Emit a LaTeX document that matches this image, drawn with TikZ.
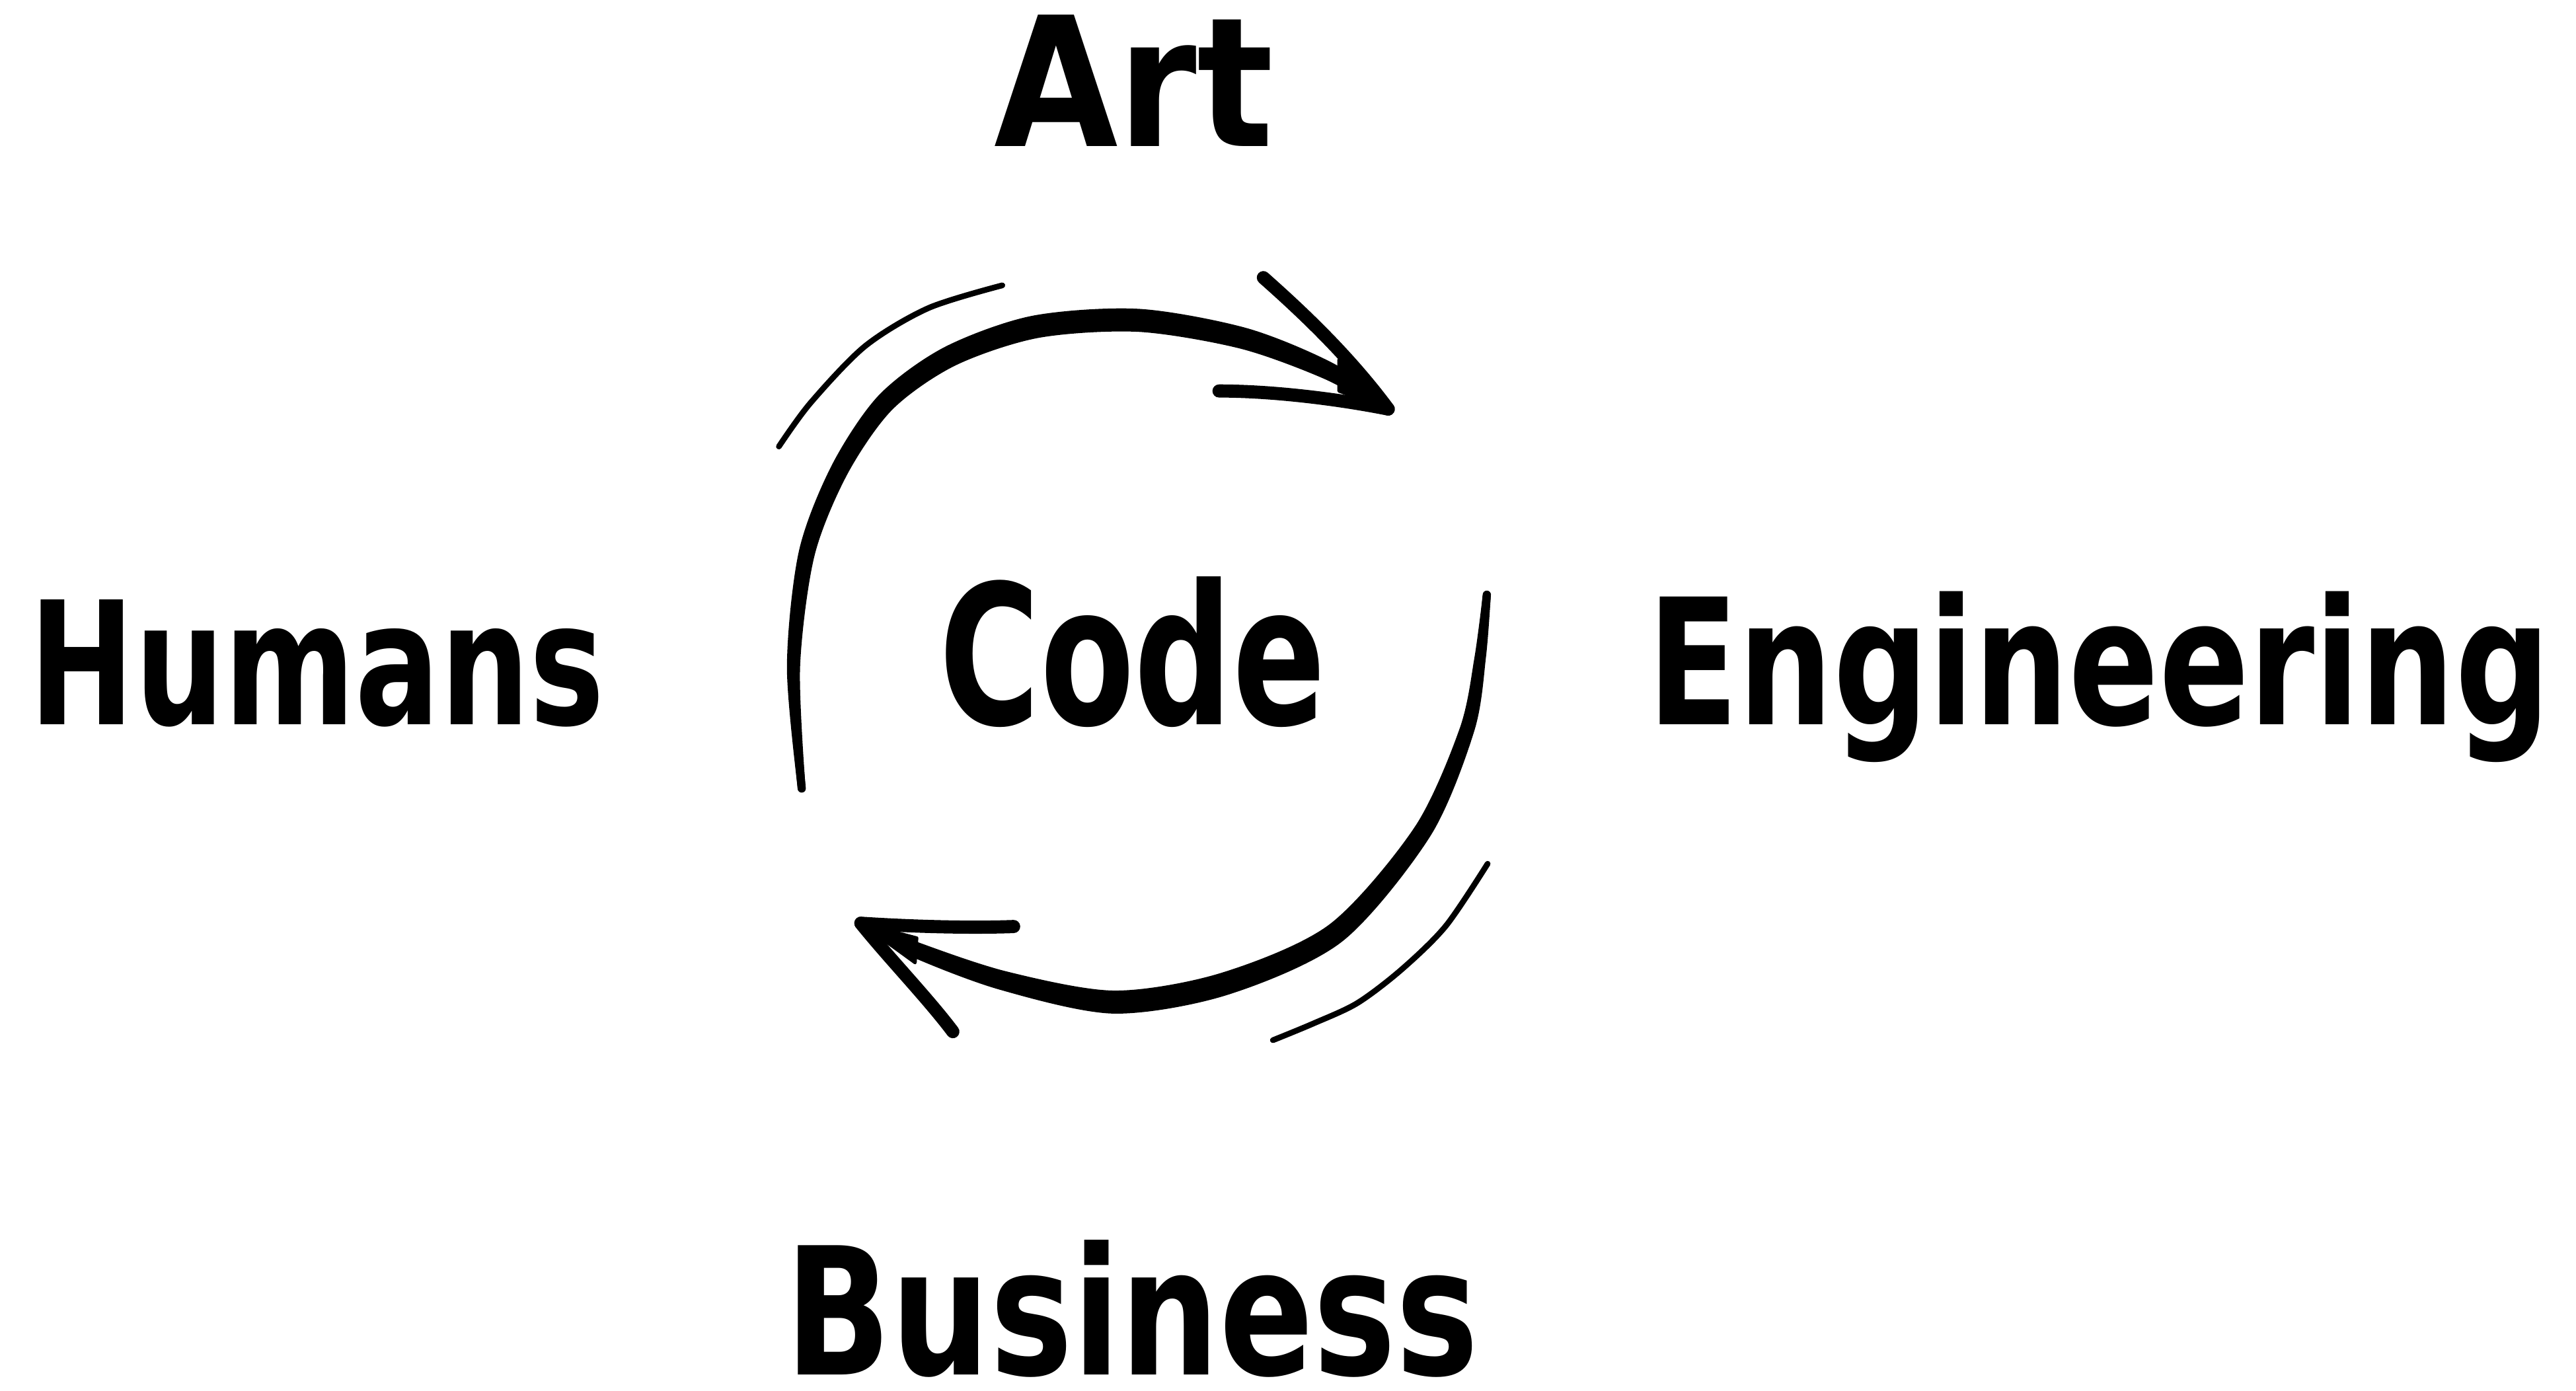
\documentclass[tikz,border=0pt]{standalone}
\usepackage{graphicx}
\usepackage{fontspec}
\newfontfamily\hwfont{DejaVu Sans}
\newcommand\hwtext[3]{\resizebox{#1bp}{#2bp}{\hwfont\bfseries #3}}
\tikzset{
  word/.style={inner sep=0pt, outer sep=0pt, anchor=base west, text=black},
  barb/.style={draw=black, line width=8bp, line cap=round, line join=round},
  spine/.style={draw=black, line width=5bp, line cap=round, line join=round},
  swish/.style={draw=black, line width=3.5bp, line cap=round},
  shaft/.style={fill=black, draw=none},
  wedge/.style={fill=black, draw=black, line width=2bp, line join=round},
}
\begin{document}
\begin{tikzpicture}[x=1bp, y=-1bp]
\useasboundingbox (0,0) rectangle (1568,846.75);

% ---- upper arrow (Humans side -> Engineering side)
\path[shaft] plot[smooth] coordinates {(485.7,480.9) (479,406) (486.3,335.4) (506.4,283.0) (534.9,240.6) (574.7,211.4) (628.0,192.3) (693.1,188) (759.1,199.8) (812.0,221.4) (848.1,246.9)}
   -- plot[smooth] coordinates {(843.9,251.1) (806.0,230.6) (754.9,212.2) (692.9,202) (632.0,205.7) (581.3,222.6) (543.1,249.4) (515.6,289.0) (495.7,338.6) (487,406) (490.3,479.1)} -- cycle;
\draw[spine] plot[smooth] coordinates {(488,480) (483,406) (491,337) (511,286) (539,245) (578,217) (630,199) (693,195) (757,206) (809,226) (844,249)};
\coordinate (utip) at (845,249);
\coordinate (ub1) at (769,169);
\coordinate (ub2) at (742,238);
\coordinate (uj1) at (815,219);
\coordinate (uj2) at (815,238);
\draw[barb] (ub1) .. controls (795,192) and (822,218) .. (utip);
\draw[barb] (ub2) .. controls (775,238) and (815,243) .. (utip);
\filldraw[wedge] (uj1) -- (utip) -- (uj2) -- cycle;

% ---- lower arrow (Engineering side -> Humans side)
\path[shaft] plot[smooth] coordinates {(907.5,361.5) (904.5,399.9) (897.4,444.9) (870.8,508.7) (816.9,573.2) (746.9,605.7) (677.6,617) (608.7,602.5) (554.0,582.0) (521.8,564.1)}
   -- plot[smooth] coordinates {(526.2,559.9) (560.0,574.0) (613.3,591.5) (678.4,603) (743.1,592.3) (809.1,562.8) (861.2,503.3) (888.6,443.1) (897.5,400.1) (902.5,362.5)} -- cycle;
\draw[spine] plot[smooth] coordinates {(905,362) (901,400) (893,444) (866,506) (813,568) (745,599) (678,610) (611,597) (557,578) (526,562)};
\coordinate (ltip) at (524,562);
\coordinate (lb1) at (617,564);
\coordinate (lb2) at (580,628);
\coordinate (lj1) at (558,571);
\coordinate (lj2) at (557,586);
\draw[barb] (lb1) .. controls (590,565) and (555,564) .. (ltip);
\draw[barb] (lb2) .. controls (565,608) and (540,582) .. (ltip);
\filldraw[wedge] (lj1) -- (ltip) -- (lj2) -- cycle;

% ---- thin swishes
\draw[swish] plot[smooth] coordinates {(474.1,271.8) (493.4,245.2) (526.7,210.6) (565.2,187.5) (610.1,173.7)};
\draw[swish] plot[smooth] coordinates {(905.5,525.8) (880.1,563.6) (853.2,590.1) (826.2,610.6) (799.3,623.1) (774.8,633.2)};

% ---- words (drawn last)
\node[word] (art) at (605,89) {\hwtext{170}{80}{Art}};
\node[word] (humans) at (18,441) {\hwtext{350}{76}{Humans}};
\node[word] (code) at (572,441) {\hwtext{235}{90}{Code}};
\node[word] (eng) at (1003,441) {\hwtext{549}{81}{Engineering}};
\node[word] (bus) at (478,837) {\hwtext{422}{82}{Business}};
\end{tikzpicture}
\end{document}
